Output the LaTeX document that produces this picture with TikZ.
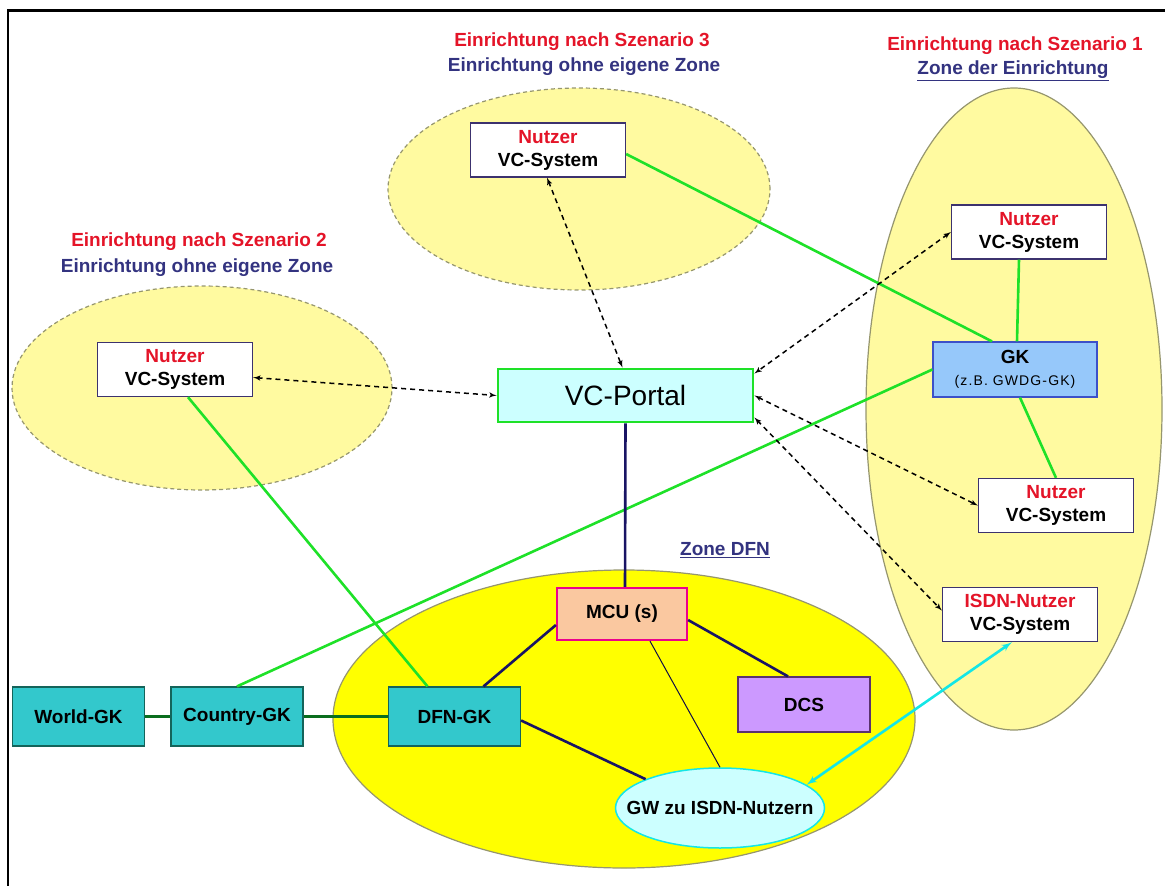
\documentclass[tikz,border=0pt]{standalone}
\usepackage{fontspec}
\setmainfont{Liberation Sans}
\usetikzlibrary{arrows,shapes.geometric}

\definecolor{zred}{RGB}{228,20,40}
\definecolor{znavy}{RGB}{51,51,128}
\definecolor{palezone}{RGB}{255,250,160}
\definecolor{dfnzone}{RGB}{255,255,0}
\definecolor{zoneline}{RGB}{150,150,110}
\definecolor{tealfill}{RGB}{51,200,204}
\definecolor{tealline}{RGB}{20,100,90}
\definecolor{gkfill}{RGB}{150,200,250}
\definecolor{gkline}{RGB}{60,80,200}
\definecolor{mcufill}{RGB}{250,200,160}
\definecolor{dcsfill}{RGB}{204,153,255}
\definecolor{dcsline}{RGB}{90,50,110}
\definecolor{lightcyan}{RGB}{204,255,255}
\definecolor{brightgreen}{RGB}{30,225,40}
\definecolor{darkgreen}{RGB}{10,110,30}
\definecolor{navyline}{RGB}{25,20,100}
\definecolor{cyanline}{RGB}{20,230,230}
\definecolor{userline}{RGB}{60,50,110}

\tikzstyle{userbox} = [rectangle, draw=userline, line width=1.3pt, fill=white, minimum width=155pt, minimum height=54pt, align=center, font=\fontsize{19}{23}\selectfont\bfseries]
\tikzstyle{gkbox} = [rectangle, draw=tealline, line width=1.2pt, fill=tealfill, minimum width=132pt, minimum height=59pt, font=\fontsize{19}{23}\selectfont\bfseries]
\tikzstyle{heading} = [font=\fontsize{19}{23}\selectfont\bfseries, text=zred]
\tikzstyle{subheading} = [font=\fontsize{19}{23}\selectfont\bfseries, text=znavy]
\tikzstyle{greenline} = [draw, line width=2.6pt, color=brightgreen]
\tikzstyle{navline} = [draw, line width=2.6pt, color=navyline]
\tikzstyle{dashline} = [draw, line width=1.5pt, dash pattern=on 5pt off 4pt, latex'-latex']
\tikzstyle{zone} = [fill=palezone, draw=zoneline, line width=1.2pt, dash pattern=on 4pt off 3pt]

\begin{document}
\begin{tikzpicture}[x=1pt, y=-1pt]
    \useasboundingbox (0,0) rectangle (1165,886);
    \draw [line width=2.5pt] (8,886) -- (8,10.5) -- (1165,10.5);

    % Zones
    \path [zone] (579,189) ellipse [x radius=191pt, y radius=101pt];
    \path [zone] (202,388) ellipse [x radius=190pt, y radius=102pt];
    \draw [fill=palezone, draw=zoneline, line width=1.2pt] (1014,409) ellipse [x radius=148pt, y radius=321pt];
    \draw [fill=dfnzone, draw=zoneline, line width=1.2pt] (624,719) ellipse [x radius=291pt, y radius=149pt];

    % Place nodes
    \node [heading] (szdrei) at (582,42) {Einrichtung nach Szenario 3};
    \node [subheading] (szdreisub) at (584,67) {Einrichtung ohne eigene Zone};
    \node [heading] (szeins) at (1015,46) {Einrichtung nach Szenario 1};
    \node [subheading] (szeinssub) at (1013,71) {\underline{Zone der Einrichtung}};
    \node [heading] (szzwei) at (199,242) {Einrichtung nach Szenario 2};
    \node [subheading] (szzweisub) at (197,268) {Einrichtung ohne eigene Zone};
    \node [subheading] (zonedfn) at (725,550) {\underline{Zone DFN}};

    \node [userbox] (nutzerdrei) at (548,150) {\textcolor{zred}{Nutzer}\\VC-System};
    \node [userbox] (nutzerzwei) at (175,369.5) {\textcolor{zred}{Nutzer}\\VC-System};
    \node [userbox] (nutzereins) at (1029,232) {\textcolor{zred}{Nutzer}\\VC-System};
    \node [userbox] (nutzervier) at (1056,505.5) {\textcolor{zred}{Nutzer}\\VC-System};
    \node [userbox] (isdnnutzer) at (1020,614.5) {\textcolor{zred}{ISDN-Nutzer}\\VC-System};

    \node [rectangle, draw=gkline, line width=1.2pt, fill=gkfill, minimum width=164pt, minimum height=55pt, align=center, font=\fontsize{14}{22}\selectfont] (gk) at (1015,369.5)
        {{\fontsize{19}{22}\selectfont\bfseries GK}\\{\addfontfeature{LetterSpace=8}(z.B. GWDG-GK)}};

    \node [rectangle, draw=brightgreen, line width=2.8pt, fill=lightcyan, minimum width=255pt, minimum height=53pt, font=\fontsize{28}{32}\selectfont] (portal) at (625.5,395.5) {VC-Portal};

    \node [rectangle, draw=magenta, line width=2.2pt, fill=mcufill, minimum width=130pt, minimum height=52pt, font=\fontsize{19}{23}\selectfont\bfseries] (mcu) at (622,614) {MCU (s)};
    \node [rectangle, draw=dcsline, line width=1.2pt, fill=dcsfill, minimum width=132pt, minimum height=55pt, font=\fontsize{19}{23}\selectfont\bfseries] (dcs) at (804,704.5) {DCS};

    \node [gkbox] (worldgk) at (78.5,716.5) {World-GK};
    \node [gkbox] (countrygk) at (237,716.5) {Country-GK};
    \node [gkbox] (dfngk) at (454.5,716.5) {DFN-GK};

    \node [ellipse, draw=cyanline, line width=1.5pt, fill=lightcyan, minimum width=209pt, minimum height=80pt, inner sep=0pt, font=\fontsize{19}{23}\selectfont\bfseries] (gw) at (720,808) {\makebox[140pt]{GW zu ISDN-Nutzern}};

    % Draw edges
    \path [greenline] (countrygk.north) -- (gk.west);
    \path [greenline] ([xshift=13pt]nutzerzwei.south) -- ([xshift=-27pt]dfngk.north);
    \path [greenline] ([yshift=-4pt]nutzerdrei.east) -- ([xshift=-23pt]gk.north);
    \path [greenline] ([xshift=2pt]gk.north) -- ([xshift=-10pt]nutzereins.south);
    \path [greenline] ([xshift=5pt]gk.south) -- (nutzervier.north);
    \path [draw, line width=2.6pt, color=darkgreen] (worldgk) -- (countrygk);
    \path [draw, line width=2.6pt, color=darkgreen] (countrygk) -- (dfngk);

    \path [navline] (portal.south) -- ([xshift=3pt]mcu.north);
    \path [navline] ([yshift=-11pt]mcu.west) -- ([xshift=29pt]dfngk.north);
    \path [navline] ([yshift=-6pt]mcu.east) -- ([xshift=-16pt]dcs.north);
    \path [navline] ([yshift=-4pt]dfngk.east) -- (gw.north west);
    \path [draw, line width=1pt, color=navyline!70!black] ([xshift=28pt]mcu.south) -- (gw.north);
    \path [draw, line width=2.6pt, color=cyanline, latex'-latex'] (gw.15) -- ([xshift=-8pt]isdnnutzer.south);

    \path [dashline] ([xshift=-1pt]nutzerdrei.south) -- ([xshift=-3pt]portal.north);
    \path [dashline] ([yshift=-8pt]nutzerzwei.east) -- (portal.west);
    \path [dashline] (nutzereins.west) -- ([yshift=22pt]portal.east);
    \path [dashline] (portal.east) -- (nutzervier.west);
    \path [dashline] ([yshift=-22pt]portal.east) -- ([yshift=4pt]isdnnutzer.west);
\end{tikzpicture}
\end{document}
